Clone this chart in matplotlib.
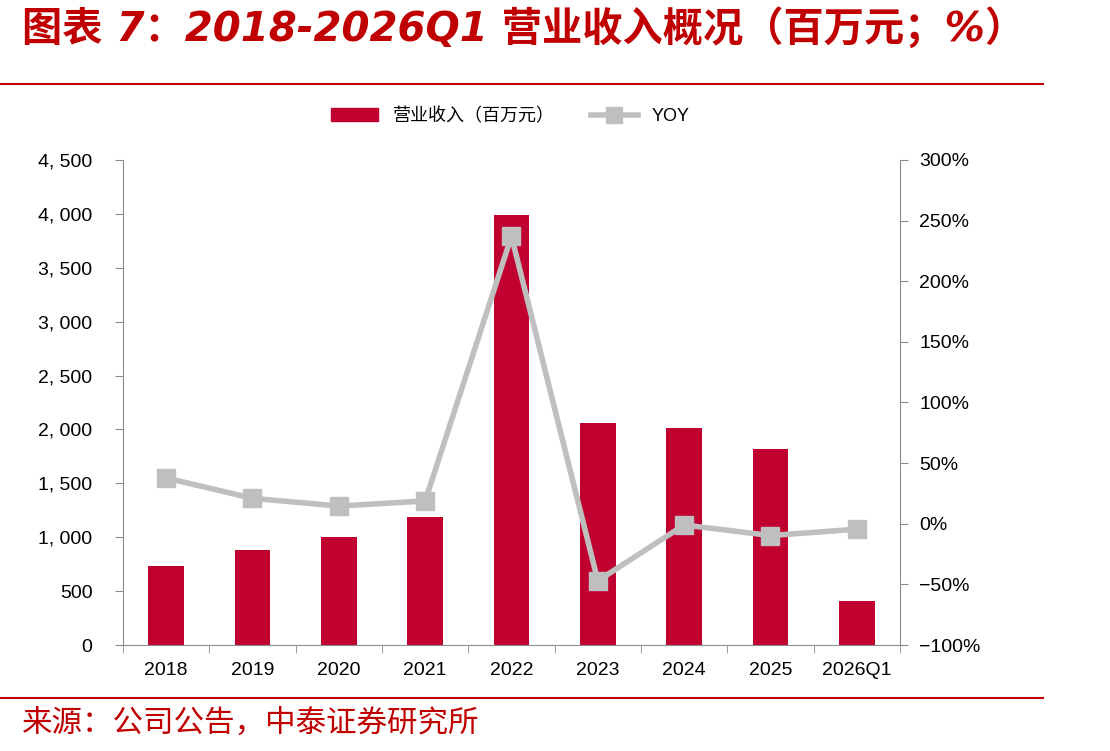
import matplotlib.pyplot as plt
from matplotlib.ticker import FuncFormatter, FixedLocator
from matplotlib.lines import Line2D
from matplotlib.patches import Patch

plt.rcParams['font.family'] = ['Liberation Sans', 'Noto Sans CJK SC', 'DejaVu Sans']

# --- données ---
annees = ["2018", "2019", "2020", "2021", "2022", "2023", "2024", "2025", "2026Q1"]
revenu = [733, 881, 1002, 1188, 3990, 2060, 2013, 1818, 408]
yoy = [37.7, 21.0, 14.6, 18.8, 237.0, -47.0, -1.0, -9.7, -4.5]

rouge = "#C0002F"
gris = "#BFBFBF"
axe = "#8C8C8C"

fig = plt.figure(figsize=(11.1, 7.51), dpi=100)
ax = fig.add_axes([0.1108, 0.1411, 0.7, 0.6459])
ax2 = ax.twinx()

x = list(range(len(annees)))
ax.bar(x, revenu, width=0.41, color=rouge, zorder=2)
ax2.plot(x, yoy, color=gris, linewidth=4, marker="s", markersize=13, zorder=3)

ax.set_xlim(-0.5, len(annees) - 0.5)
ax.set_ylim(0, 4500)
ax.set_yticks(range(0, 4501, 500))
ax.yaxis.set_major_formatter(FuncFormatter(lambda v, p: f"{int(v):,}".replace(",", ", ")))
ax2.set_ylim(-100, 300)
ax2.set_yticks(range(-100, 301, 50))
ax2.yaxis.set_major_formatter(FuncFormatter(lambda v, p: f"{int(v)}%".replace("-", "\u2212")))

ax.set_xticks(x)
ax.set_xticklabels(annees)
ax.xaxis.set_minor_locator(FixedLocator([i - 0.5 for i in range(len(annees) + 1)]))
ax.tick_params(axis="x", which="major", length=0, pad=12, labelsize=14)
ax.tick_params(axis="x", which="minor", length=6, color=axe, direction="out")
ax.tick_params(axis="y", length=6, color=axe, labelsize=14, pad=16)
ax2.tick_params(axis="y", length=6, color=axe, labelsize=14, pad=8)

for a in (ax, ax2):
    a.spines["top"].set_visible(False)
for s in ("left", "bottom"):
    ax.spines[s].set_color(axe)
ax.spines["right"].set_visible(False)
ax2.spines["right"].set_color(axe)
ax2.spines["left"].set_visible(False)
ax2.spines["bottom"].set_visible(False)

# légende
poignees = [Patch(color=rouge), Line2D([0], [0], color=gris, linewidth=4, marker="s", markersize=11)]
fig.legend(poignees, ["营业收入（百万元）", "YOY"], loc="center", bbox_to_anchor=(0.46, 0.845),
           ncol=2, frameon=False, fontsize=13, handlelength=2.6, columnspacing=2.0)

# titre et source
fig.text(0.02, 0.962, "图表 7：2018-2026Q1 营业收入概况（百万元；%）", color="#C00000",
         fontsize=29, fontweight="bold", style="italic", va="center", ha="left",
         family=["DejaVu Sans", "Noto Sans CJK SC"])
fig.add_artist(Line2D([0, 0.94], [0.888, 0.888], color="#C00000", linewidth=1.5))
fig.add_artist(Line2D([0, 0.94], [0.071, 0.071], color="#C00000", linewidth=1.5))
fig.text(0.02, 0.037, "来源：公司公告，中泰证券研究所", color="#C00000", fontsize=22,
         va="center", ha="left", family=["Noto Sans CJK SC"])

fig.savefig("out.png", dpi=100)
